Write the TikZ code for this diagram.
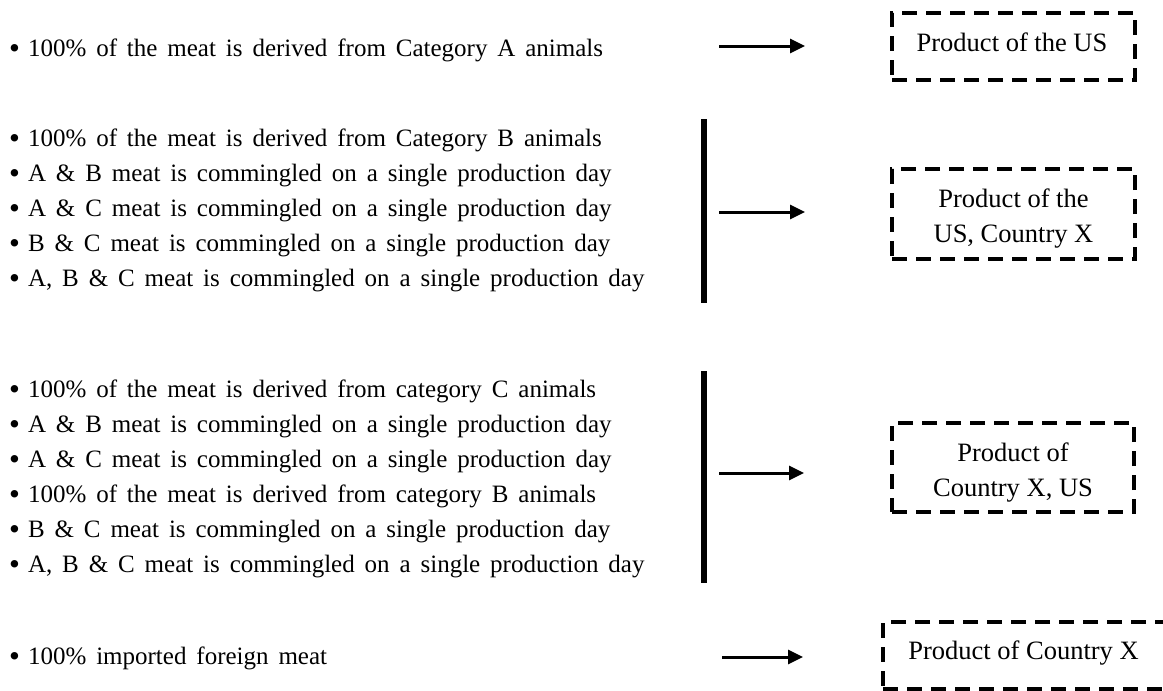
\documentclass[tikz,border=0pt]{standalone}
\usepackage{fontspec}
\setmainfont{Liberation Serif}
\usetikzlibrary{arrows.meta}
\tikzset{
  item/.style={anchor=base west, inner sep=0pt, font=\fontsize{25}{30}\selectfont},
  boxtext/.style={anchor=base, inner sep=0pt, font=\fontsize{26.5}{35}\selectfont},
  prodbox/.style={draw, line width=4pt, dash pattern=on 15pt off 9pt, inner sep=0pt},
  bar/.style={line width=6pt},
  arr/.style={line width=3pt, -{Triangle[length=15pt,width=14pt]}}
}
\newcommand{\bul}{\spaceskip=9.9pt plus 1pt\relax\raisebox{-2pt}{\fontsize{31}{30}\selectfont •}\hspace{8pt}}
\begin{document}
\begin{tikzpicture}[x=1pt,y=-1pt]
\useasboundingbox (0,0) rectangle (1163,691);
% left texts
\node[item] (t1) at (9,56) {\bul 100\% of the meat is derived from Category A animals};
\node[item] (t2a) at (9,146) {\bul 100\% of the meat is derived from Category B animals};
\node[item] (t2b) at (9,181) {\bul A \& B meat is commingled on a single production day};
\node[item] (t2c) at (9,216) {\bul A \& C meat is commingled on a single production day};
\node[item] (t2d) at (9,251) {\bul B \& C meat is commingled on a single production day};
\node[item] (t2e) at (9,286) {\bul A, B \& C meat is commingled on a single production day};
\node[item] (t3a) at (9,397) {\bul 100\% of the meat is derived from category C animals};
\node[item] (t3b) at (9,432) {\bul A \& B meat is commingled on a single production day};
\node[item] (t3c) at (9,467) {\bul A \& C meat is commingled on a single production day};
\node[item] (t3d) at (9,502) {\bul 100\% of the meat is derived from category B animals};
\node[item] (t3e) at (9,537) {\bul B \& C meat is commingled on a single production day};
\node[item] (t3f) at (9,572) {\bul A, B \& C meat is commingled on a single production day};
\node[item] (t4) at (9,664) {\bul 100\% imported foreign meat};
% boxes
\node[prodbox, minimum width=243pt, minimum height=67pt] (b1) at (1013.5,46.5) {};
\node[prodbox, minimum width=243pt, minimum height=90pt] (b2) at (1013.5,214) {};
\node[prodbox, minimum width=242pt, minimum height=89pt] (b3) at (1013,467.5) {};
\node[prodbox, minimum width=290pt, minimum height=67pt] (b4) at (1028,655.5) {};
\node[boxtext] (p1) at (1012,51) {Product of the US};
\node[boxtext] (p2a) at (1013.5,207) {Product of the};
\node[boxtext] (p2b) at (1013.5,242) {US, Country X};
\node[boxtext] (p3a) at (1013,461) {Product of};
\node[boxtext] (p3b) at (1013,496) {Country X, US};
\node[boxtext] (p4) at (1023.5,659) {Product of Country X};
% bars
\coordinate (bar1t) at (704,119); \coordinate (bar1b) at (704,303);
\coordinate (bar2t) at (704,371); \coordinate (bar2b) at (704,583);
\draw[bar] (bar1t) -- (bar1b);
\draw[bar] (bar2t) -- (bar2b);
% arrows
\coordinate (a1s) at (719,46); \coordinate (a1e) at (805,46);
\coordinate (a2s) at (719,212); \coordinate (a2e) at (805,212);
\coordinate (a3s) at (719,473); \coordinate (a3e) at (804,473);
\coordinate (a4s) at (722,657); \coordinate (a4e) at (803,657);
\draw[arr] (a1s) -- (a1e);
\draw[arr] (a2s) -- (a2e);
\draw[arr] (a3s) -- (a3e);
\draw[arr] (a4s) -- (a4e);
\end{tikzpicture}
\end{document}
